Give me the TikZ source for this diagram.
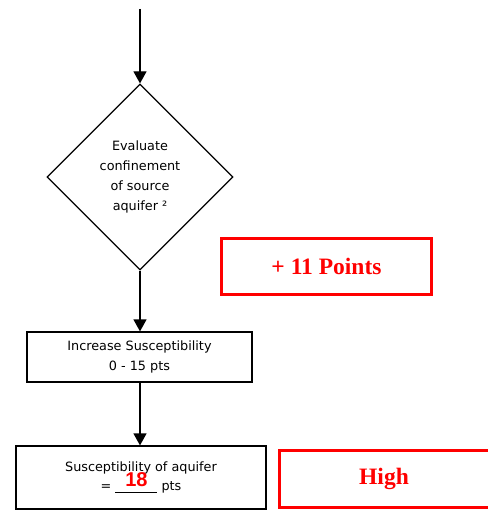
\documentclass[tikz,border=0pt]{standalone}
\usepackage{fontspec}
\setmainfont{DejaVu Sans}
\newfontfamily\serifbold{Liberation Serif}
\newfontfamily\arialfont{Liberation Sans}
\usetikzlibrary{shapes.geometric, arrows.meta, positioning}
\definecolor{scorered}{RGB}{255, 0, 0}

\begin{document}
\begin{tikzpicture}[x=1pt, y=-1pt,
  flow/.style={draw, line width=1.2pt, align=center, font=\fontsize{12.8}{19.8}\selectfont},
  decision/.style={flow, diamond, aspect=1, minimum width=186pt, minimum height=186pt, inner sep=0pt},
  process/.style={flow, rectangle, inner sep=0pt},
  result/.style={draw=scorered, line width=3pt, minimum width=210pt, minimum height=56pt, text=scorered, font=\serifbold\bfseries\fontsize{23.5}{24}\selectfont},
  link/.style={-{Triangle[width=13pt, length=12pt]}, line width=1.2pt}]
  \useasboundingbox (0,0) rectangle (487,510);

  % Flow chart
  \coordinate (start) at (140, 9);
  \node[decision] (confine) at (140, 177) {Evaluate\\confinement\\of source\\aquifer ²};
  \node[process, minimum width=225pt, minimum height=50pt] (increase) at (139.5, 357) {Increase Susceptibility\\0 - 15 pts};
  \node[process, minimum width=250pt, minimum height=63pt] (total) at (141, 477.5)
    {Susceptibility of aquifer\\= \underline{\makebox[42pt]{\smash{\raisebox{4pt}{\arialfont\bfseries\fontsize{20}{20}\selectfont\color{scorered}18}}}} pts};

  % Connectors
  \draw[link] (start) -- (confine.north);
  \draw[link] (confine.south) -- (confine.south |- increase.north);
  \draw[link] (confine.south |- increase.south) -- (confine.south |- total.north);

  % Scores
  \node[result] (points) at (326.5, 266.25) {+ 11 Points};
  \node[result, minimum height=57.5pt] (rating) at (384, 478.75) {High};
\end{tikzpicture}
\end{document}
